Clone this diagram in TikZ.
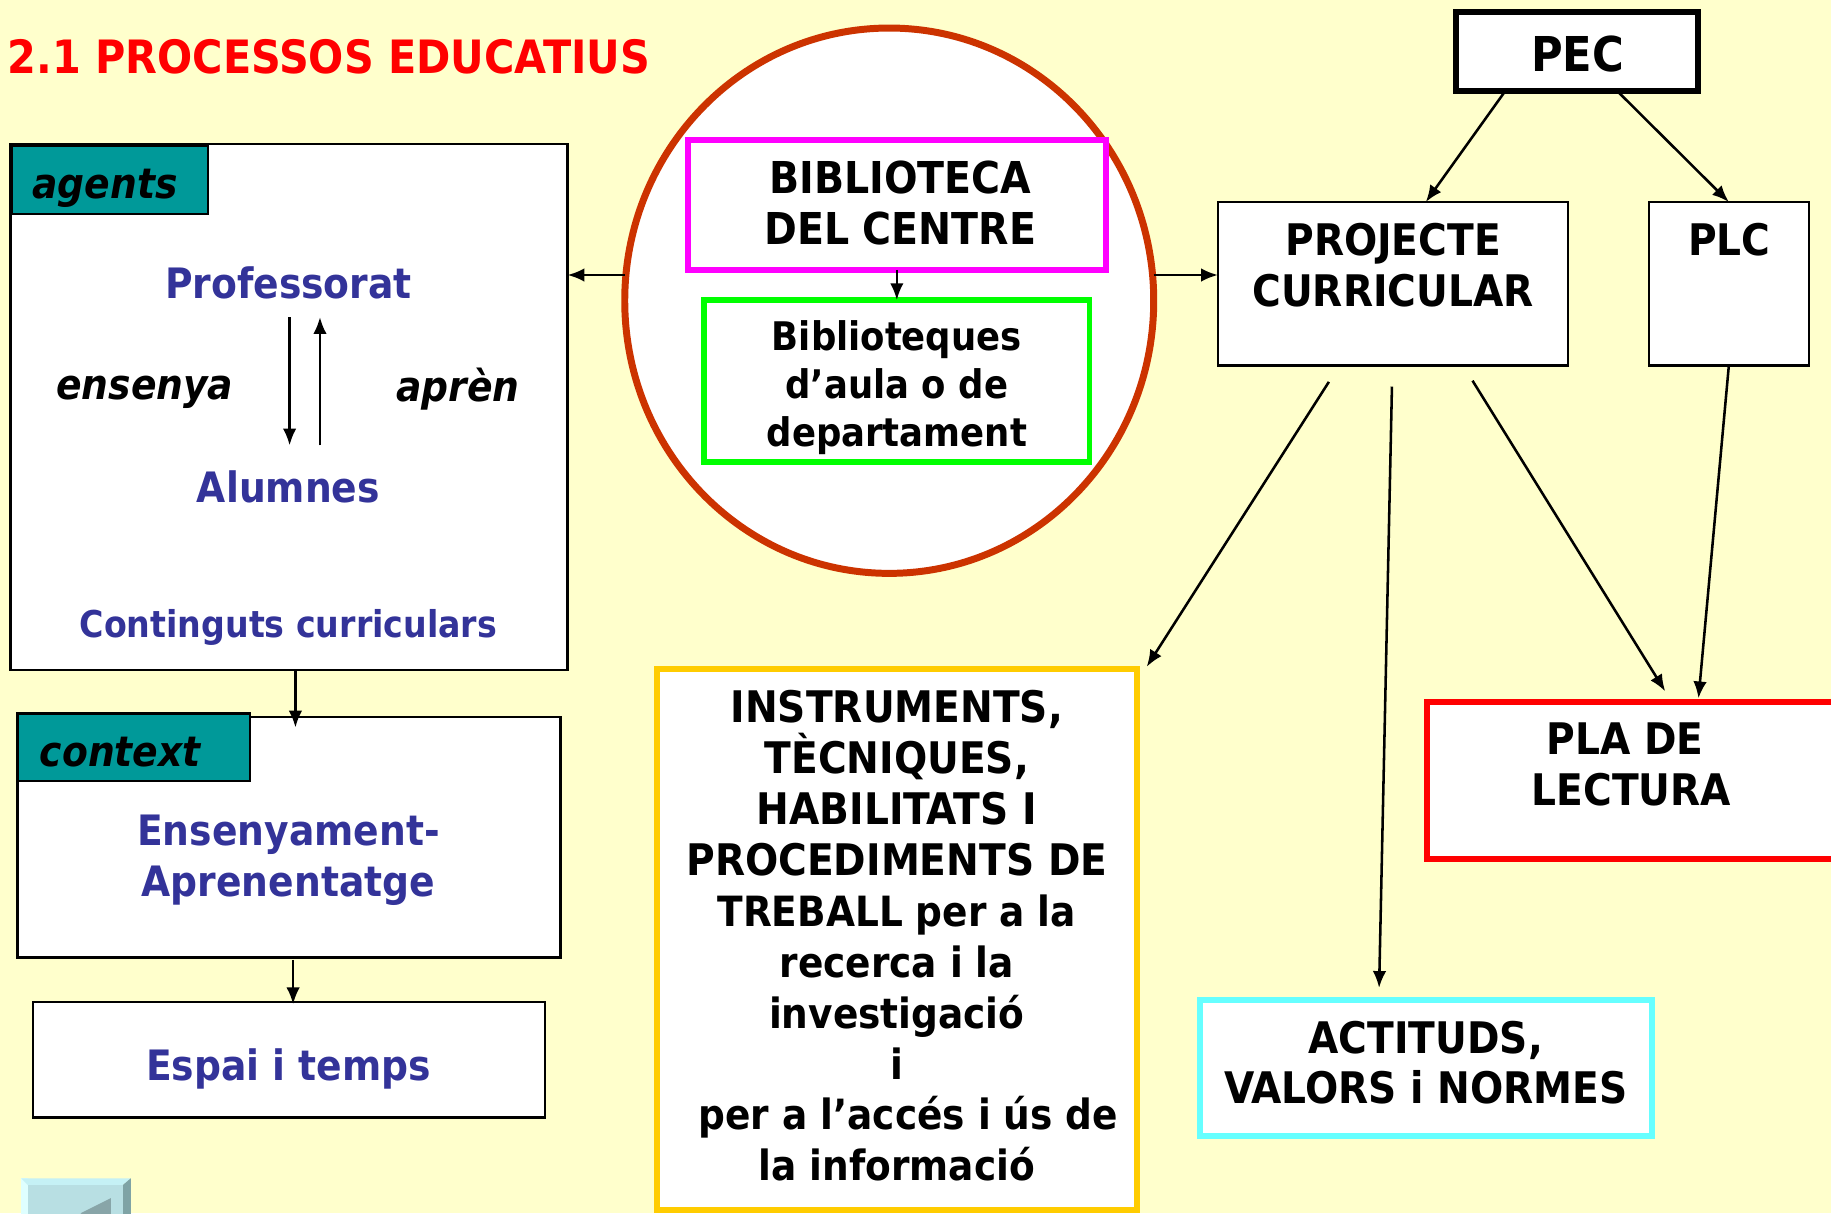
\documentclass[tikz,border=0pt]{standalone}
\usepackage{fontspec}
\setmainfont{DejaVu Sans Condensed}
\usetikzlibrary{shapes.geometric,arrows.meta}
\definecolor{fons}{HTML}{FFFFCC}
\definecolor{blau}{HTML}{333399}
\definecolor{teal2}{HTML}{009999}
\definecolor{rovell}{HTML}{FFCC00}
\definecolor{cian}{HTML}{66FFFF}
\definecolor{teula}{HTML}{CC3300}
\definecolor{fucsia}{HTML}{FF00FF}
\definecolor{verd}{HTML}{00FF00}
\definecolor{botoa}{HTML}{DFFFFF}
\definecolor{botob}{HTML}{C5F1F5}
\definecolor{botoc}{HTML}{7FA3A5}
\definecolor{botod}{HTML}{B8DFE3}
\definecolor{botoe}{HTML}{88A5A8}
\newcommand{\minusc}{\fontsize{10.15}{12.4}\selectfont}
\tikzset{
  caixa/.style={draw=black,fill=white,line width=0.55pt,inner sep=0pt,outer sep=0pt},
  gruixuda/.style={draw=#1,fill=white,line width=1.45pt,inner sep=0pt,outer sep=0pt},
  pestanya/.style={draw=black,fill=teal2,line width=0.55pt,inner sep=0pt},
  negre/.style={font=\fontsize{10.6}{12.4}\selectfont\bfseries,align=center,inner sep=0pt},
  petit/.style={font=\fontsize{9.6}{11.7}\selectfont\bfseries,align=center,inner sep=0pt},
  blava/.style={font=\fontsize{10.2}{12.4}\selectfont\bfseries,align=center,inner sep=0pt,text=blau},
  cursiva/.style={font=\fontsize{10.2}{12.4}\selectfont\bfseries\itshape,inner sep=0pt},
  fletxa/.style={-{Latex[length=4.1pt,width=3.3pt]},line width=0.62pt}
}
\begin{document}
\begin{tikzpicture}[y=-1cm]
	\useasboundingbox (0,0) rectangle (15.68,10.39);
	\fill[fons] (0,0) rectangle (15.68,10.39);
	\node[anchor=west,font=\fontsize{11.2}{13}\selectfont\bfseries,text=red,inner sep=0pt] (titol) at (0.06,0.49) {2.1 PROCESSOS EDUCATIUS};

	% Left column
	\node[caixa,minimum width=4.77cm,minimum height=4.51cm] (agents) at (2.475,3.485) {};
	\node[pestanya,minimum width=1.68cm,minimum height=0.58cm] (tabagents) at (0.94,1.54) {};
	\node[cursiva] (lagents) at (0.90,1.61) {agents};
	\node[blava] (professorat) at (2.47,2.42) {Professorat};
	\node[blava] (alumnes) at (2.47,4.17) {Alumnes};
	\node[cursiva] (ensenya) at (1.24,3.36) {ensenya};
	\node[cursiva] (apren) at (3.92,3.33) {aprèn};
	\node[font=\fontsize{9}{11}\selectfont\bfseries,text=blau,inner sep=0pt] (continguts) at (2.47,5.37) {Continguts curriculars};
	\draw[fletxa] ([xshift=0.01cm,yshift=-0.15cm]professorat.south) -- ([xshift=0.01cm,yshift=0.21cm]alumnes.north);
	\draw[fletxa] ([xshift=0.27cm,yshift=0.21cm]alumnes.north) -- ([xshift=0.27cm,yshift=-0.15cm]professorat.south);

	\node[caixa,minimum width=4.65cm,minimum height=2.06cm] (context) at (2.475,7.17) {};
	\node[pestanya,minimum width=1.99cm,minimum height=0.58cm] (tabcontext) at (1.145,6.40) {};
	\node[cursiva] (lcontext) at (1.03,6.44) {context};
	\node[blava] (ensenyament) at (2.47,7.37) {Ensenyament-\\Aprenentatge};
	\draw[fletxa] ([xshift=0.055cm]agents.south) -- ([xshift=0.055cm,yshift=-0.09cm]context.north);

	\node[caixa,minimum width=4.39cm,minimum height=0.99cm] (espai) at (2.475,9.075) {};
	\node[blava] (lespai) at (2.47,9.15) {Espai i temps};
	\draw[fletxa] ([xshift=0.035cm,yshift=-0.02cm]context.south) -- ([xshift=0.035cm,yshift=-0.02cm]espai.north);

	% Back button
	\begin{scope}
		\clip (0,0) rectangle (15.68,10.39);
		\fill[botoa] (0.18,10.09) rectangle (0.24,10.60);
		\fill[botob] (0.18,10.09) -- (1.12,10.09) -- (1.05,10.15) -- (0.24,10.15) -- cycle;
		\fill[botoc] (1.05,10.15) -- (1.12,10.09) -- (1.12,10.60) -- (1.05,10.60) -- cycle;
		\fill[botod] (0.24,10.15) rectangle (1.05,10.60);
		\fill[botoe] (0.95,10.26) -- (0.69,10.39) -- (0.95,10.52) -- cycle;
	\end{scope}

	% Library
	\node[ellipse,draw=teula,fill=white,line width=1.7pt,inner sep=0pt,outer sep=0pt,minimum width=4.53cm,minimum height=4.67cm] (cercle) at (7.615,2.575) {};
	\node[gruixuda=fucsia,minimum width=3.58cm,minimum height=1.11cm] (biblioteca) at (7.68,1.755) {};
	\node[negre,font=\fontsize{10.7}{12.4}\selectfont\bfseries] (lbiblioteca) at (7.71,1.74) {BIBLIOTECA\\DEL CENTRE};
	\node[gruixuda=verd,minimum width=3.30cm,minimum height=1.39cm] (aula) at (7.68,3.265) {};
	\node[petit] (laula) at (7.68,3.32) {Biblioteques\\d’aula o de\\departament};
	\draw[fletxa] (biblioteca.south) -- (aula.north);
	\draw[fletxa] ([yshift=0.22cm]cercle.west) -- ([yshift=0.22cm]cercle.west -| agents.east);

	% Right part
	\node[draw=black,fill=white,line width=1.45pt,inner sep=0pt,outer sep=0pt,minimum width=2.07cm,minimum height=0.68cm] (pec) at (13.505,0.44) {};
	\node[negre,font=\fontsize{11.7}{13}\selectfont\bfseries] (lpec) at (13.51,0.46) {PEC};
	\node[caixa,minimum width=3.00cm,minimum height=1.40cm] (projecte) at (11.93,2.43) {};
	\node[negre] (lprojecte) at (11.93,2.27) {PROJECTE\\CURRICULAR};
	\node[caixa,minimum width=1.37cm,minimum height=1.40cm] (plc) at (14.805,2.43) {};
	\node[negre] (lplc) at (14.81,2.05) {PLC};
	\draw[fletxa] ([yshift=0.22cm]cercle.east) -- ([yshift=0.22cm]cercle.east -| projecte.west);
	\draw[fletxa] ([xshift=-0.615cm]pec.south) -- ([xshift=0.28cm]projecte.north);
	\draw[fletxa] ([xshift=0.345cm]pec.south) -- (plc.north);

	\node[gruixuda=rovell,minimum width=4.11cm,minimum height=4.63cm] (instruments) at (7.685,8.045) {};
	\node[negre] (linstruments) at (7.68,8.015) {INSTRUMENTS,\\TÈCNIQUES,\\HABILITATS I\\PROCEDIMENTS DE\\{\minusc TREBALL per a la}\\{\minusc recerca i la}\\{\minusc investigació}\\{\minusc i}\\{\minusc\hspace*{5.6pt}per a l’accés i ús de}\\{\minusc la informació}};
	\node[gruixuda=red,minimum width=3.53cm,minimum height=1.35cm] (pla) at (13.985,6.685) {};
	\node[negre] (lpla) at (13.97,6.55) {PLA DE\hspace*{3pt}\\LECTURA};
	\node[gruixuda=cian,minimum width=3.87cm,minimum height=1.17cm] (actituds) at (12.215,9.145) {};
	\node[negre] (lactituds) at (12.21,9.10) {ACTITUDS,\\VALORS i NORMES};
	\draw[fletxa] ([xshift=-0.55cm,yshift=-0.14cm]projecte.south) -- ([xshift=2.135cm,yshift=0.02cm]instruments.north);
	\draw[fletxa] ([xshift=-0.01cm,yshift=-0.18cm]projecte.south) -- ([xshift=-0.405cm,yshift=0.10cm]actituds.north);
	\draw[fletxa] ([xshift=0.68cm,yshift=-0.13cm]projecte.south) -- ([xshift=0.275cm,yshift=0.09cm]pla.north);
	\draw[fletxa] (plc.south) -- ([xshift=0.56cm,yshift=0.03cm]pla.north);
\end{tikzpicture}
\end{document}
